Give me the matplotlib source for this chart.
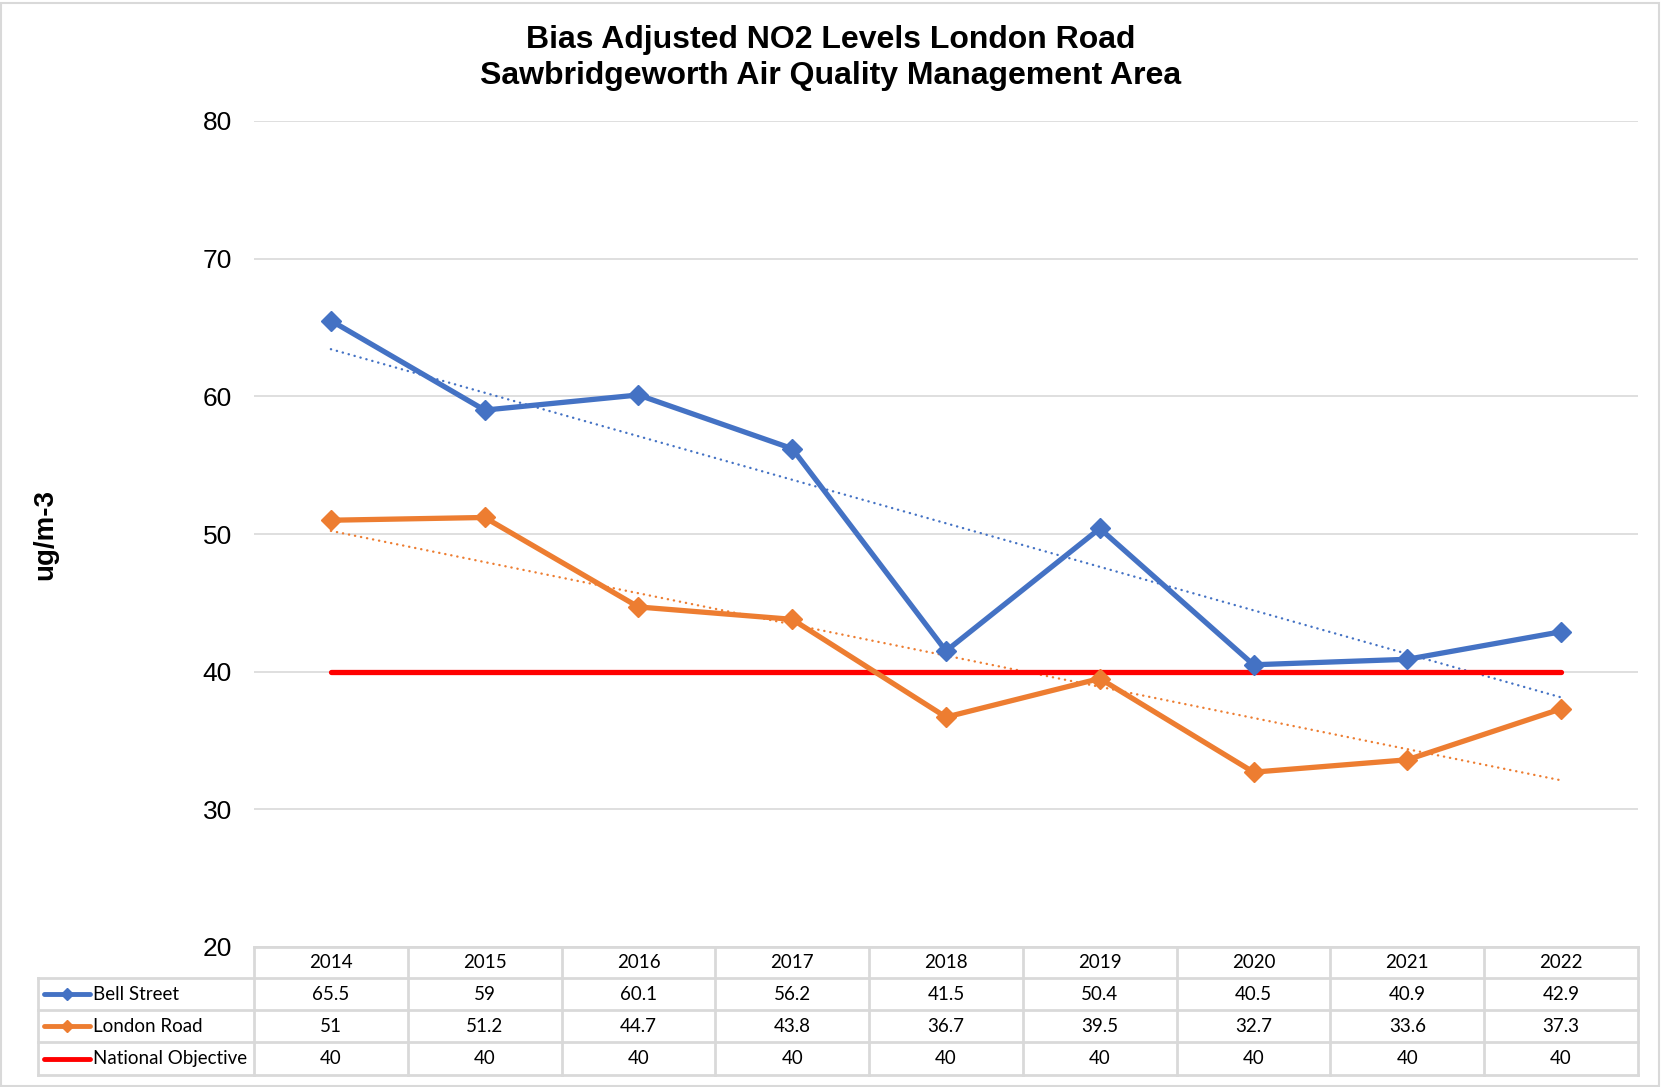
import numpy as np
import matplotlib.pyplot as plt
from matplotlib.patches import Rectangle
from matplotlib.lines import Line2D
import matplotlib.transforms as mtransforms

years = ['2014', '2015', '2016', '2017', '2018', '2019', '2020', '2021', '2022']
bell_street = [65.5, 59, 60.1, 56.2, 41.5, 50.4, 40.5, 40.9, 42.9]
london_road = [51, 51.2, 44.7, 43.8, 36.7, 39.5, 32.7, 33.6, 37.3]
national_objective = [40, 40, 40, 40, 40, 40, 40, 40, 40]

series_names = ['Bell Street', 'London Road', 'National Objective']
series_vals = [bell_street, london_road, national_objective]
series_cols = ['#4472C4', '#ED7D31', '#FF0000']

W, H = 1661, 1087
fig = plt.figure(figsize=(W / 100, H / 100), dpi=100)
fig.patches.append(Rectangle((1 / W, 1 / H), 1 - 3 / W, 1 - 4 / H, transform=fig.transFigure,
                             fill=False, edgecolor='#D9D9D9', lw=1.5))

left, right, top, bottom = 254, 1638, 121, 947
ax = fig.add_axes([left / W, 1 - bottom / H, (right - left) / W, (bottom - top) / H])

x = np.arange(len(years)) + 0.5
ax.set_xlim(0, len(years))
ax.set_ylim(20, 80)
ax.set_yticks(range(20, 81, 10))
ax.set_xticks([])
ax.grid(axis='y', color='#D9D9D9', lw=1.2)
ax.set_axisbelow(True)
for s in ax.spines.values():
    s.set_visible(False)
ax.tick_params(axis='y', length=0, pad=16, labelsize=19)
for t in ax.get_yticklabels():
    t.set_fontfamily('Liberation Sans')

# trendlines (linear fit, as Excel does)
for vals, col in zip(series_vals[:2], series_cols[:2]):
    k, b = np.polyfit(x, vals, 1)
    ax.plot(x, k * x + b, color=col, lw=1.7, ls=(0, (0.1, 2.5)), dash_capstyle='round', zorder=2)

ax.plot(x, bell_street, color=series_cols[0], lw=3.8, marker='D', ms=10, zorder=4)
ax.plot(x, london_road, color=series_cols[1], lw=3.8, marker='D', ms=10, zorder=4)
ax.plot(x, national_objective, color=series_cols[2], lw=3.8, solid_capstyle='round', zorder=3)

fig.text(0.5, 0.977, 'Bias Adjusted NO2 Levels London Road\nSawbridgeworth Air Quality Management Area',
         ha='center', va='top', fontsize=23, fontweight='bold', family='Liberation Sans',
         linespacing=1.25)
fig.text(45 / W, 1 - 535 / H, 'ug/m-3', rotation=90, ha='center', va='center',
         fontsize=20, fontweight='bold', family='Liberation Sans')

# data table below the axes
tr = mtransforms.blended_transform_factory(ax.transData, fig.transFigure)
fy = lambda p: 1 - p / H
rows = [947, 978, 1010, 1042, 1075]
lab_left = 38
gc = '#D9D9D9'
tf = 'Lato'
tsize = 13.5

def fline(xs, ys):
    fig.add_artist(Line2D(xs, ys, transform=fig.transFigure, color=gc, lw=2))

# horizontal lines
fline([left / W, right / W], [fy(rows[0])] * 2)
for r in rows[1:]:
    fline([lab_left / W, right / W], [fy(r)] * 2)
# vertical lines
fline([lab_left / W] * 2, [fy(rows[1]), fy(rows[-1])])
for i in range(len(years) + 1):
    px = left + i * (right - left) / len(years)
    fline([px / W] * 2, [fy(rows[0]), fy(rows[-1])])

for i, yr in enumerate(years):
    fig.text(x[i], fy((rows[0] + rows[1]) / 2), yr, transform=tr, ha='center', va='center',
             fontsize=tsize, family=tf)
for j, (name, vals, col) in enumerate(zip(series_names, series_vals, series_cols)):
    yc = fy((rows[j + 1] + rows[j + 2]) / 2)
    for i, v in enumerate(vals):
        fig.text(x[i], yc, f'{v:g}', transform=tr, ha='center', va='center',
                 fontsize=tsize, family=tf)
    fig.add_artist(Line2D([44 / W, 90 / W], [yc, yc], transform=fig.transFigure, color=col,
                          lw=3.5, solid_capstyle='round'))
    if j < 2:
        fig.add_artist(Line2D([67 / W], [yc], transform=fig.transFigure, color=col,
                              marker='D', ms=6))
    fig.text(93 / W, yc, name, ha='left', va='center', fontsize=tsize, family=tf)

fig.savefig('out.png', dpi=100, facecolor='white')
